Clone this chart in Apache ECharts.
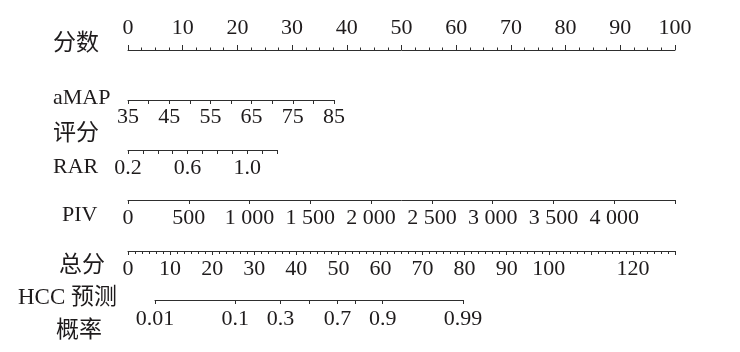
<!DOCTYPE html>
<html>
<head>
<meta charset="utf-8">
<script src="https://cdn.jsdelivr.net/npm/echarts@6/dist/echarts.min.js"></script>
<style>
html,body{margin:0;padding:0;background:#fff;}
#c{width:740px;height:352px;}
</style>
</head>
<body>
<div id="c"></div>
<script>
// ---- data ----
const rowNames = ['分数', 'aMAP', '评分', 'RAR', 'PIV', '总分', 'HCC 预测', '概率'];
const pointsRange = [0, 100];
const pointsLabels = [0, 10, 20, 30, 40, 50, 60, 70, 80, 90, 100];
const amapRange = [35, 85];
const amapLabels = [35, 45, 55, 65, 75, 85];
const rarRange = [0.2, 1.2];
const rarTicks = [0.2, 0.3, 0.4, 0.5, 0.6, 0.7, 0.8, 0.9, 1.0, 1.1, 1.2];
const rarLabels = [0.2, 0.6, 1.0];
const pivRange = [0, 4500];
const pivLabels = [0, 500, 1000, 1500, 2000, 2500, 3000, 3500, 4000];
const totalRange = [0, 130];
const totalLabels = [0, 10, 20, 30, 40, 50, 60, 70, 80, 90, 100, 120];
const probRange = [0.01, 0.99];
const probTicks = [0.01, 0.1, 0.3, 0.5, 0.7, 0.8, 0.9, 0.99];
const probLabels = [0.01, 0.1, 0.3, 0.7, 0.9, 0.99];

// ---- helpers ----
const logit = p => Math.log(p / (1 - p));
const NUM_FONT = '"Liberation Serif", "Times New Roman", serif';
const CJK_FONT = '"Liberation Serif", "Noto Sans CJK SC", serif';
const TXT = '#1e1b1c';
const LINE = '#2e2e2e';
const FS = 22;

function fmtThousands(v) {
  const s = String(Math.round(v));
  return s.replace(/\B(?=(\d{3})+(?!\d))/g, ' ');
}

const chart = echarts.init(document.getElementById('c'), null, {renderer: 'canvas'});

// grid layout: [left, width, axisLineY, position]
const rows = [
  {left: 128, width: 547, y: 50,  pos: 'top'},    // points
  {left: 128, width: 206, y: 100, pos: 'bottom'}, // aMAP
  {left: 128, width: 149, y: 150, pos: 'bottom'}, // RAR
  {left: 128, width: 547, y: 200, pos: 'bottom'}, // PIV
  {left: 128, width: 547, y: 251, pos: 'bottom'}, // total
  {left: 155, width: 308, y: 300, pos: 'bottom'}  // prob
];

const grids = rows.map(r => ({
  left: r.left, width: r.width,
  top: r.pos === 'top' ? r.y : r.y - 10,
  height: 10,
  containLabel: false
}));

const baseAxis = (i) => ({
  type: 'value',
  gridIndex: i,
  position: rows[i].pos,
  splitLine: {show: false},
  axisLine: {show: true, onZero: false, lineStyle: {color: LINE, width: 1}},
  axisTick: {show: true, length: 4, lineStyle: {color: LINE, width: 1}},
  axisLabel: {color: TXT, fontFamily: NUM_FONT, fontSize: FS, margin: 6},
});

function merge(a, b) {
  const o = Object.assign({}, a);
  for (const k in b) {
    if (b[k] && typeof b[k] === 'object' && !Array.isArray(b[k]) && a[k] && typeof a[k] === 'object') {
      o[k] = Object.assign({}, a[k], b[k]);
    } else o[k] = b[k];
  }
  return o;
}

const xAxes = [
  merge(baseAxis(0), {
    min: pointsRange[0], max: pointsRange[1], interval: 10,
    axisTick: {length: 5},
    minorTick: {show: true, splitNumber: 4, length: 2.5, lineStyle: {color: LINE, width: 1}},
    axisLabel: {customValues: pointsLabels, margin: 11}
  }),
  merge(baseAxis(1), {
    min: amapRange[0], max: amapRange[1], interval: 5,
    axisLabel: {customValues: amapLabels, margin: 6}
  }),
  merge(baseAxis(2), {
    min: rarRange[0], max: rarRange[1],
    axisTick: {customValues: rarTicks},
    axisLabel: {customValues: rarLabels, formatter: v => Number(v).toFixed(1), margin: 7}
  }),
  merge(baseAxis(3), {
    min: pivRange[0], max: pivRange[1], interval: 500,
    axisLabel: {customValues: pivLabels, formatter: v => fmtThousands(v), margin: 7}
  }),
  merge(baseAxis(4), {
    min: totalRange[0], max: totalRange[1], interval: 10,
    axisTick: {length: 4},
    minorTick: {show: true, splitNumber: 6, length: 3, lineStyle: {color: LINE, width: 1}},
    axisLabel: {customValues: totalLabels, margin: 7}
  }),
  merge(baseAxis(5), {
    min: logit(probRange[0]), max: logit(probRange[1]),
    axisTick: {customValues: probTicks.map(logit)},
    axisLabel: {
      customValues: probLabels.map(logit), margin: 8,
      formatter: v => {
        const p = 1 / (1 + Math.exp(-v));
        let best = probLabels[0];
        probLabels.forEach(q => { if (Math.abs(q - p) < Math.abs(best - p)) best = q; });
        return String(best);
      }
    }
  })
];

const yAxes = rows.map((r, i) => ({type: 'value', gridIndex: i, show: false, min: 0, max: 1}));

// row name positions [x, centerY]
const namePos = [
  [53, 44], [53, 98], [53, 134], [53, 167], [62, 215], [59, 266], [18, 298], [56, 331]
];
const graphics = rowNames.map((t, i) => ({
  type: 'text',
  x: namePos[i][0], y: namePos[i][1],
  style: {
    text: t, fill: TXT,
    font: (/[\u4e00-\u9fff]/.test(t) ? '23px ' : '22px ') + CJK_FONT,
    align: 'left', verticalAlign: 'middle'
  }
}));

chart.setOption({
  animation: false,
  backgroundColor: '#ffffff',
  grid: grids,
  xAxis: xAxes,
  yAxis: yAxes,
  graphic: graphics,
  series: []
});
</script>
</body>
</html>
